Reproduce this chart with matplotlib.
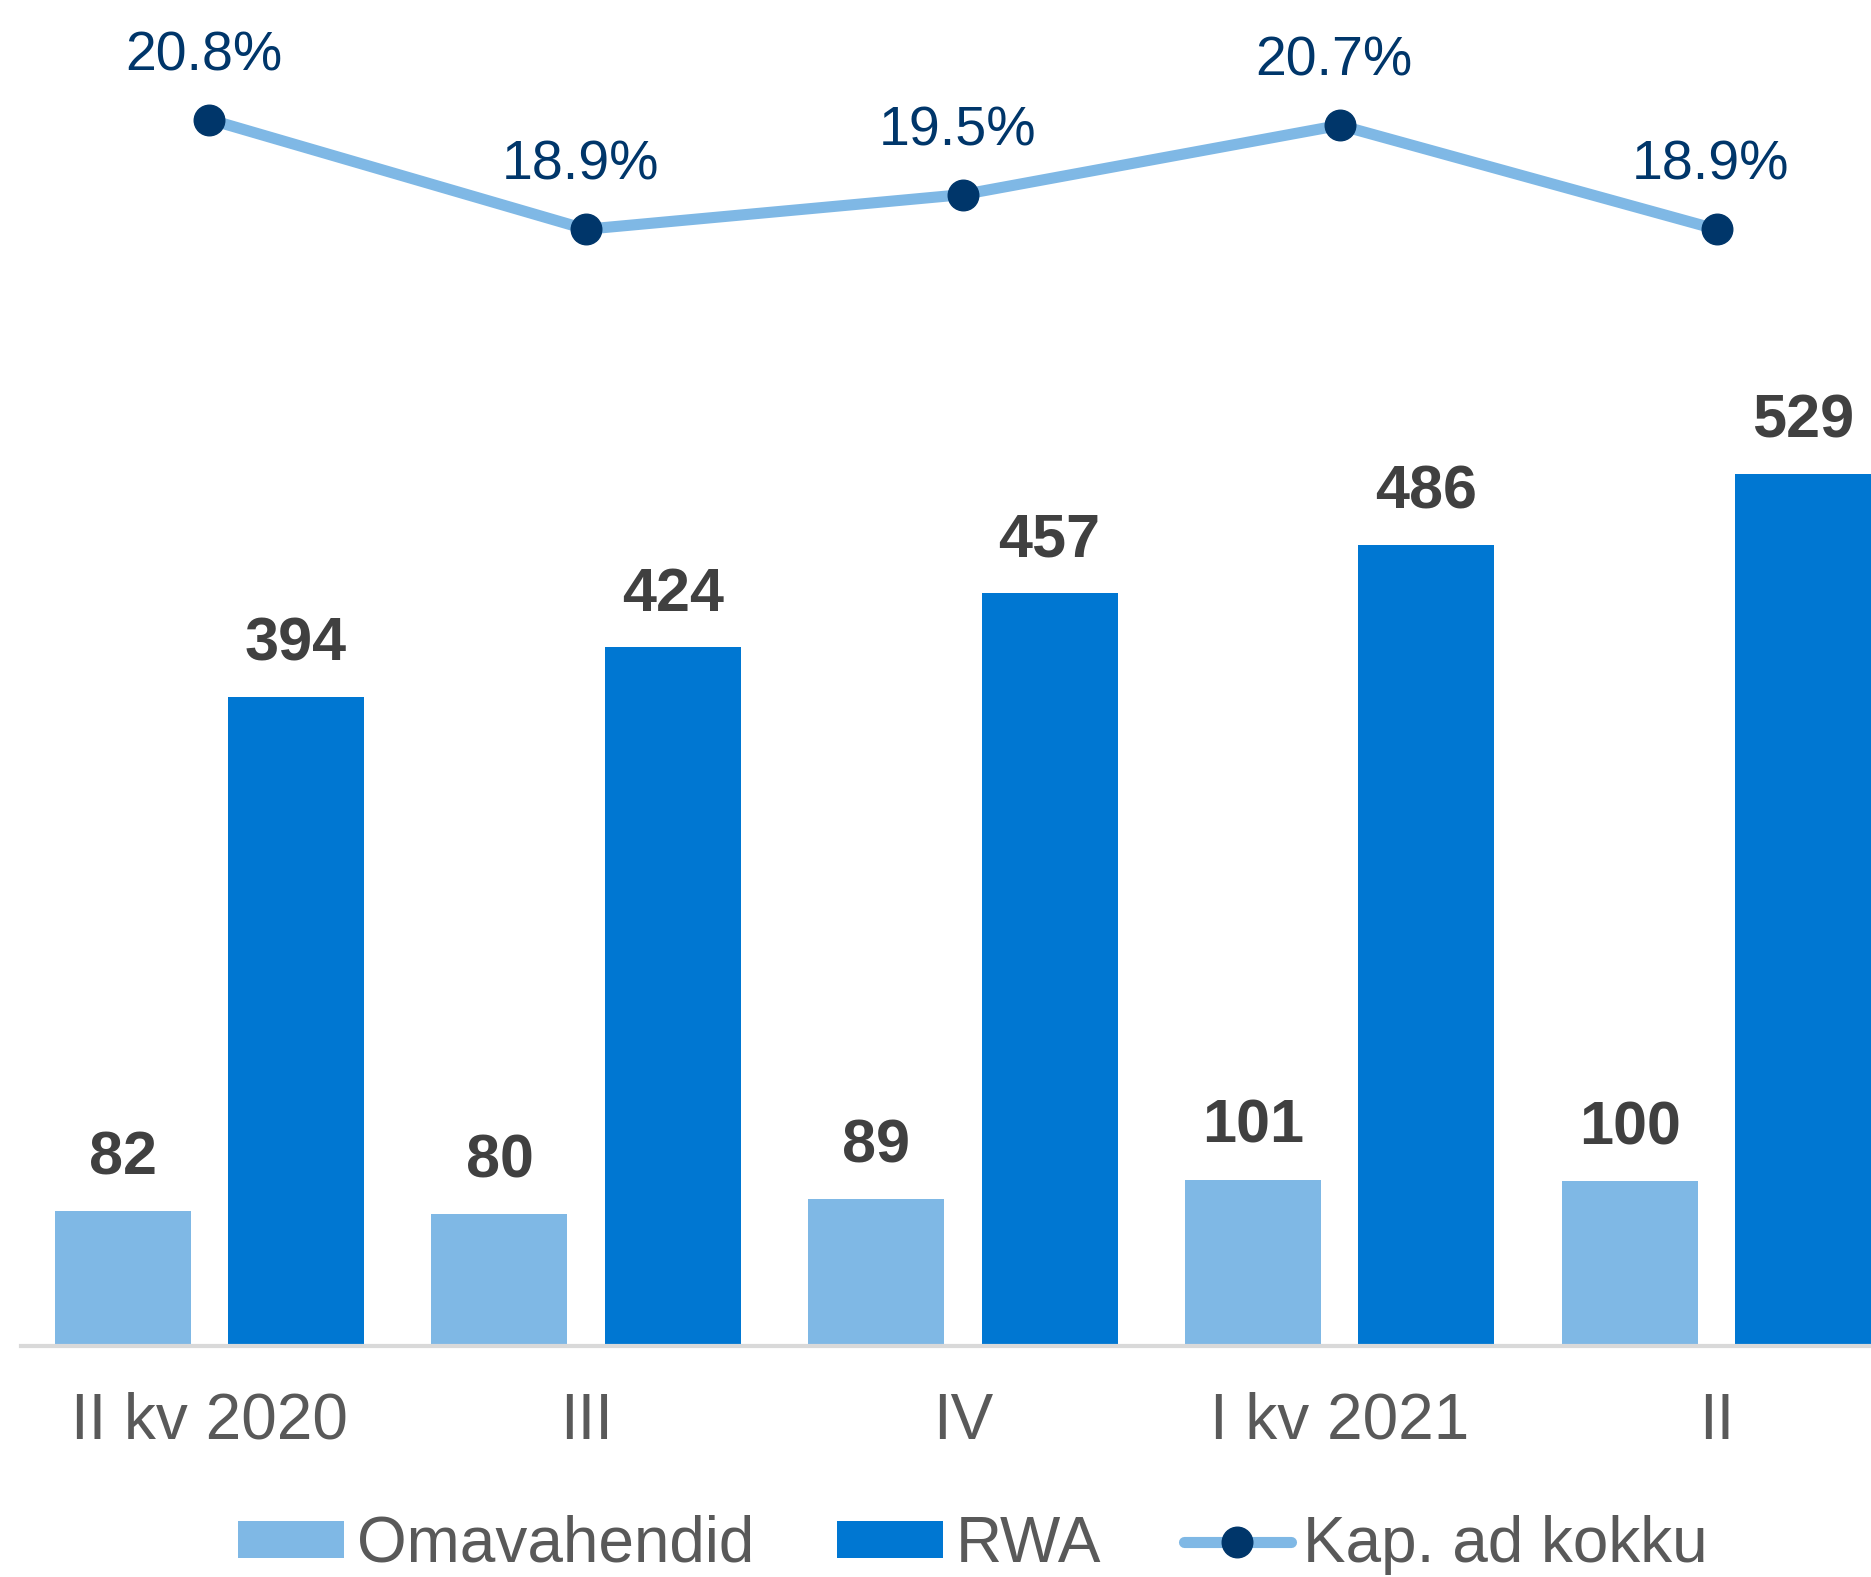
import matplotlib.pyplot as plt
import numpy as np

plt.rcParams['font.family'] = ['Liberation Sans', 'DejaVu Sans']

# Data
categories = ['II kv 2020', 'III', 'IV', 'I kv 2021', 'II']
omavahendid = [82, 80, 89, 101, 100]
rwa = [394, 424, 457, 486, 529]
kap_ad = [20.8, 18.9, 19.5, 20.7, 18.9]

light_blue = '#7FB8E5'
dark_blue = '#0077D2'
navy = '#00366A'
grey_txt = '#595959'
label_txt = '#404040'

fig = plt.figure(figsize=(18.71, 15.77), dpi=100)
ax = fig.add_axes([0.0112, 0.1465, 0.9888, 0.8535])

x = np.arange(len(categories))
w = 0.361
off = 0.23

b1 = ax.bar(x - off, omavahendid, w, color=light_blue, label='Omavahendid')
b2 = ax.bar(x + off, rwa, w, color=dark_blue, label='RWA')
for bars in (b1, b2):
    ax.bar_label(bars, padding=17, fontsize=44, fontweight='bold', color=label_txt)

ax.set_xlim(-0.5, 4.41)
ax.set_ylim(0, 817)
ax.set_yticks([])
ax.set_xticks(x)
ax.set_xticklabels(categories, fontsize=46, color=grey_txt)
ax.tick_params(axis='x', length=0, pad=33)
for s in ['top', 'right', 'left']:
    ax.spines[s].set_visible(False)
ax.spines['bottom'].set_color('#D9D9D9')
ax.spines['bottom'].set_linewidth(3)

# capital adequacy line on its own scale
ax2 = ax.twinx()
ax2.set_ylim(-0.44, 22.87)
ax2.axis('off')
ln, = ax2.plot(x, kap_ad, color=light_blue, lw=8, marker='o', markersize=22,
               markerfacecolor=navy, markeredgecolor=navy, label='Kap. ad kokku',
               solid_capstyle='round')
for xi, v in zip(x, kap_ad):
    ax2.annotate(f'{v:.1f}%', (xi, v), xytext=(-4, 27), textcoords='offset points',
                 ha='center', va='bottom', fontsize=40, color=navy)

fig.legend(handles=[b1, b2, ln], loc='center', bbox_to_anchor=(0.52, 0.0203),
           ncol=3, frameon=False, fontsize=46, labelcolor=grey_txt,
           handlelength=1.66, handleheight=0.5, handletextpad=0.2,
           columnspacing=1.3)

fig.savefig('out.png', dpi=100)
